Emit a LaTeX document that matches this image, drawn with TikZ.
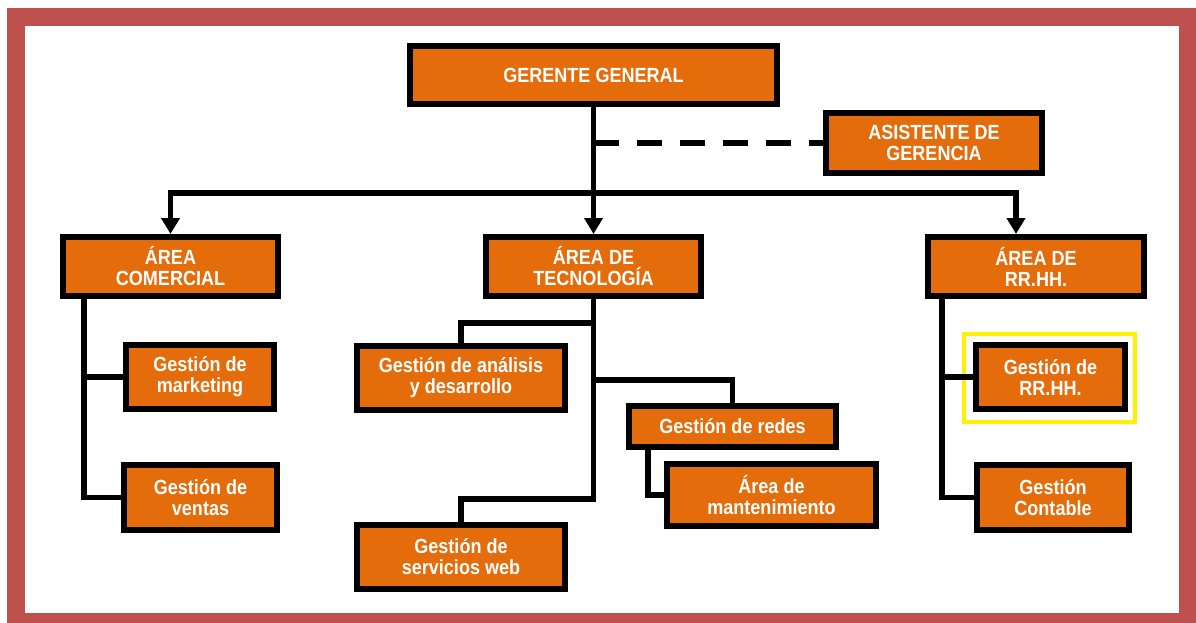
\documentclass[tikz,border=0pt]{standalone}
\usepackage{fontspec}
\newfontfamily\boxfont[FakeStretch=0.88]{Liberation Sans}
\usetikzlibrary{arrows.meta}

\definecolor{framered}{HTML}{C0504D}
\definecolor{boxorange}{HTML}{E46C0A}

\tikzset{
  orgbox/.style={draw=black,line width=6pt,fill=boxorange,text=white,
    font=\boxfont\bfseries\fontsize{20.5pt}{21pt}\selectfont,
    align=center,inner sep=0pt},
  conn/.style={line width=5.5pt},
  tip/.style={-{Triangle[width=18pt,length=16pt]}}
}

\begin{document}
\begin{tikzpicture}[x=1pt,y=-1pt]
        % page and red frame
        \useasboundingbox (0,0) rectangle (1196,623);
        \fill[framered] (7,8) rectangle (1196,623);
        \fill[white] (25,26) rectangle (1179,613);

        % top level
        \node[orgbox,minimum width=367pt,minimum height=58pt] (gg) at (593.5,75) {GERENTE GENERAL};
        \node[orgbox,minimum width=216pt,minimum height=60pt] (asis) at (934,143) {ASISTENTE DE\\GERENCIA};

        % areas
        \node[orgbox,minimum width=215pt,minimum height=59pt] (com) at (170.5,266.5) {ÁREA\\COMERCIAL};
        \node[orgbox,minimum width=215pt,minimum height=59pt] (tec) at (593.5,266.5) {ÁREA DE\\TECNOLOGÍA};
        \node[orgbox,minimum width=216pt,minimum height=59pt] (rrhh) at (1036,266.5) {ÁREA DE\\RR.HH.};

        % comercial
        \node[orgbox,minimum width=148pt,minimum height=64pt] (mkt) at (200,377) {Gestión de\\marketing};
        \node[orgbox,minimum width=153pt,minimum height=65pt] (ven) at (200.5,497.5) {Gestión de\\ventas};

        % tecnologia
        \node[orgbox,minimum width=208pt,minimum height=64pt] (ana) at (461,378) {Gestión de análisis\\y desarrollo};
        \node[orgbox,minimum width=208pt,minimum height=64pt] (web) at (461,557) {Gestión de\\servicios web};
        \node[orgbox,minimum width=207pt,minimum height=41pt] (red) at (732.5,426.5) {Gestión de redes};
        \node[orgbox,minimum width=209pt,minimum height=62pt] (man) at (771.5,495) {Área de\\mantenimiento};

        % rr.hh.
        \node[orgbox,minimum width=149pt,minimum height=64pt] (grh) at (1050.5,377) {Gestión de\\RR.HH.};
        \node[orgbox,minimum width=152pt,minimum height=65pt] (con) at (1053,497.5) {Gestión\\Contable};
        \draw[yellow,line width=4pt] (964,334) rectangle (1135,422);

        % joints on the trunks
        \coordinate (bus) at (593.5,193);
        \coordinate (anaj) at (593.5,323);
        \coordinate (redj) at (593.5,380);
        \coordinate (webj) at (593.5,499);

        % gerencia to areas
        \draw[conn,tip] (gg.south) -- (tec.north);
        \draw[conn,dash pattern=on 25pt off 18pt] (gg.south |- asis.west) -- (asis.west);
        \draw[conn,tip] (bus) -| (com.north);
        \draw[conn,tip] (bus) -| ([xshift=-20pt]rrhh.north);

        % comercial branches
        \draw[conn] ([xshift=-86.5pt]com.south) |- (mkt.west);
        \draw[conn] ([xshift=-86.5pt]com.south) |- (ven.west);

        % tecnologia branches
        \draw[conn] (tec.south) -- (webj) -| (web.north);
        \draw[conn] (anaj) -| (ana.north);
        \draw[conn] (redj) -| (red.north);
        \draw[conn] ([xshift=-84.5pt]red.south) |- (man.west);

        % rr.hh. branches
        \draw[conn] ([xshift=-94pt]rrhh.south) |- (grh.west);
        \draw[conn] ([xshift=-94pt]rrhh.south) |- (con.west);
\end{tikzpicture}
\end{document}
